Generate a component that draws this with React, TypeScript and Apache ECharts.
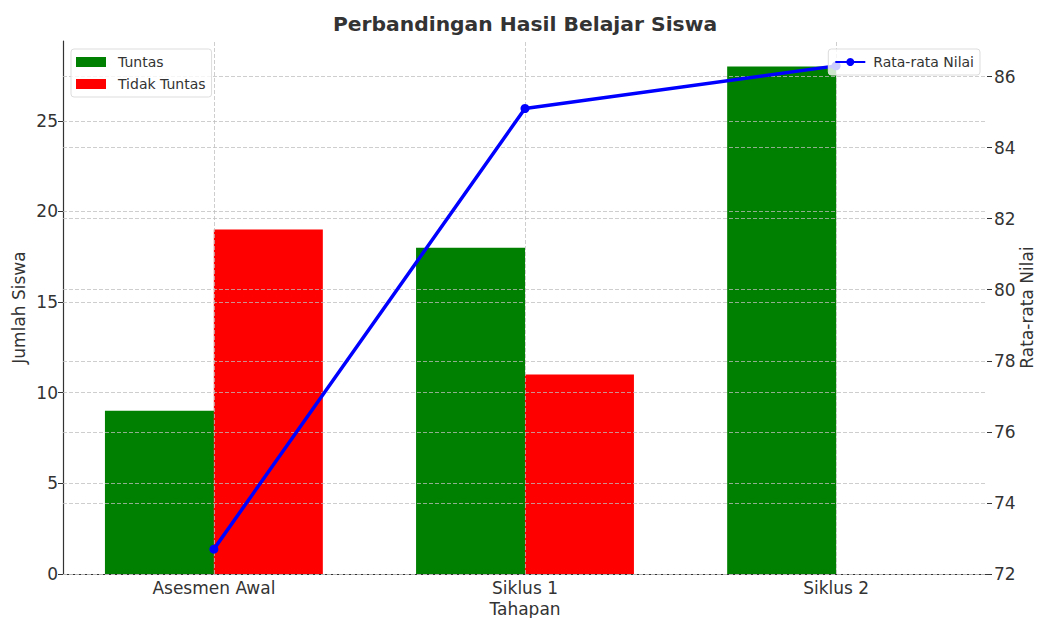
import React, { useEffect, useRef } from "react";
import * as echarts from "echarts";

const categories = ["Asesmen Awal", "Siklus 1", "Siklus 2"];
const tuntas = [9, 18, 28];
const tidakTuntas = [19, 11, 0];
const rataRata = [72.7, 85.1, 86.3];
const leftTicks = [0, 5, 10, 15, 20, 25];
const rightTicks = [72, 74, 76, 78, 80, 82, 84, 86];

const FONT = "DejaVu Sans";
const TXT = "#333333";
const GRID = { color: "rgba(190,190,190,0.75)", type: [4, 2] as number[], width: 1 };

export default function App() {
  const ref = useRef<HTMLDivElement>(null);
  useEffect(() => {
    if (!ref.current) return;
    const chart = echarts.init(ref.current, null, { renderer: "svg" });
    const barOffset = 0.175;
    const catIdx = categories.map((_, i) => i);
    const legendCommon = {
      orient: "vertical",
      top: 49,
      padding: [6, 6, 6, 5],
      itemGap: 8,
      itemWidth: 30,
      itemHeight: 10,
      borderColor: "#dddddd",
      borderWidth: 1,
      borderRadius: 3,
      backgroundColor: "rgba(255,255,255,0.8)",
      textStyle: { fontFamily: FONT, fontSize: 14, color: TXT, lineHeight: 14, padding: [0, 0, 0, 7] },
      z: 10,
    };
    const option: any = {
      animation: false,
      textStyle: { fontFamily: FONT },
      title: {
        text: "Perbandingan Hasil Belajar Siswa",
        left: 525,
        textAlign: "center",
        top: 14,
        padding: 0,
        textStyle: { fontFamily: FONT, fontSize: 20.3, fontWeight: "bold", color: TXT },
      },
      legend: [
        {
          ...legendCommon,
          data: [
            { name: "Tuntas", icon: "rect" },
            { name: "Tidak Tuntas", icon: "rect" },
          ],
          left: 71,
        },
        {
          ...legendCommon,
          padding: [6, 6, 6, 6],
          textStyle: { ...legendCommon.textStyle, padding: [0, 0, 0, 3] },
          data: ["Rata-rata Nilai"],
          right: 57,
        },
      ],
      grid: { left: 63, right: 50, top: 41, bottom: 44, containLabel: false, outerBoundsMode: "none" },
      xAxis: {
        type: "value",
        min: -0.485,
        max: 2.485,
        name: "Tahapan",
        nameLocation: "middle",
        nameGap: 26,
        nameMoveOverlap: false,
        nameTextStyle: { fontFamily: FONT, fontSize: 17, color: TXT },
        axisLine: { show: true, onZero: false, lineStyle: { color: "#333333", width: 1.2 } },
        axisTick: { show: false },
        splitLine: { show: false },
        axisLabel: {
          customValues: catIdx,
          formatter: (v: number) => categories[Math.round(v)] ?? "",
          fontFamily: FONT,
          fontSize: 17,
          color: TXT,
          margin: 5,
        },
      },
      yAxis: [
        {
          type: "value",
          min: 0,
          max: 29.4,
          interval: 5,
          name: "Jumlah Siswa",
          nameLocation: "middle",
          nameGap: 36,
          nameMoveOverlap: false,
          nameTextStyle: { fontFamily: FONT, fontSize: 17, color: TXT },
          axisLine: { show: true, onZero: false, lineStyle: { color: "#333333", width: 1.2 } },
          axisTick: { show: true, length: 5, lineStyle: { color: "#333333" } },
          axisLabel: { fontFamily: FONT, fontSize: 17, color: TXT, margin: 5, showMaxLabel: false },
          splitLine: { show: false },
        },
        {
          type: "value",
          min: 72,
          max: 87,
          interval: 2,
          position: "right",
          name: "Rata-rata Nilai",
          nameLocation: "middle",
          nameGap: 31,
          nameMoveOverlap: false,
          nameTextStyle: { fontFamily: FONT, fontSize: 17, color: TXT },
          axisLine: { show: false, onZero: false },
          axisTick: { show: true, length: 5, lineStyle: { color: "#333333" } },
          axisLabel: { fontFamily: FONT, fontSize: 17, color: TXT, margin: 7, showMaxLabel: false },
          splitLine: { show: false },
        },
      ],
      series: [
        {
          name: "Tuntas",
          type: "bar",
          yAxisIndex: 0,
          barWidth: 109,
          itemStyle: { color: "#008000" },
          data: tuntas.map((v, i) => [i - barOffset, v]),
          z: 2,
          markLine: {
            silent: true,
            symbol: "none",
            z: 3,
            label: { show: false },
            lineStyle: GRID,
            data: [
              ...leftTicks.map((v) => ({ yAxis: v })),
              ...catIdx.map((v) => ({ xAxis: v })),
            ],
          },
        },
        {
          name: "Tidak Tuntas",
          type: "bar",
          yAxisIndex: 0,
          barWidth: 109,
          barGap: "-100%",
          itemStyle: { color: "#ff0000" },
          data: tidakTuntas.map((v, i) => [i + barOffset, v]),
          z: 2,
        },
        {
          name: "Rata-rata Nilai",
          type: "line",
          yAxisIndex: 1,
          z: 5,
          symbol: "circle",
          symbolSize: 9,
          lineStyle: { color: "#0000ff", width: 3.5 },
          itemStyle: { color: "#0000ff" },
          data: rataRata.map((v, i) => [i, v]),
          markLine: {
            silent: true,
            symbol: "none",
            z: 3,
            label: { show: false },
            lineStyle: GRID,
            data: rightTicks.map((v) => ({ yAxis: v })),
          },
        },
      ],
    };
    chart.setOption(option);
    return () => chart.dispose();
  }, []);
  return (
    <div
      ref={ref}
      style={{ position: "fixed", left: 0, top: 0, width: 1037, height: 618, background: "#fff" }}
    />
  );
}
